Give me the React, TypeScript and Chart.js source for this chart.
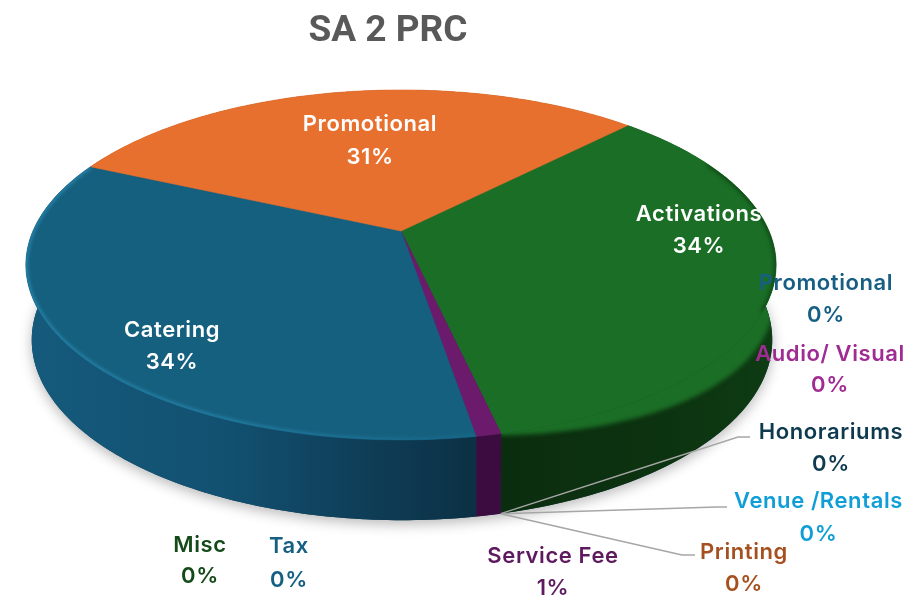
import React, { useEffect, useRef } from "react";
import { Chart, registerables } from "chart.js";

Chart.register(...registerables);

const chartTitle = "SA 2 PRC";
const categories = ["Activations", "Promotional", "Audio/ Visual", "Honorariums", "Venue /Rentals", "Printing", "Service Fee", "Tax", "Misc", "Catering", "Promotional"];
const shares = [34.1, 0, 0, 0, 0, 0, 0.9, 0, 0, 34.4, 30.6];
const startDegrees = 44.5;

const topColors = ["#1b6e26", "#156082", "#a02b93", "#0f3d52", "#0f9ed5", "#a5501e", "#6c1a6c", "#156082", "#134a18", "#16607f", "#e8702f"];
const labelColors = ["#ffffff", "#165e83", "#a02b93", "#0e3a50", "#109ed6", "#a5501e", "#5e1a5e", "#156082", "#134a18", "#ffffff", "#ffffff"];
// label centre x, first-line y, second-line y
const labelSpots = [
  [699, 214, 246], [826, 283, 315], [830, 354, 385], [831, 432, 464], [818.5, 501, 534],
  [744, 552, 584], [553, 556, 588], [289, 546, 580], [200, 545, 576], [172, 330, 362], [370, 124, 157],
];
const leaders: Record<number, number[]> = {
  3: [738, 437, 750, 437],
  4: [717, 507, 727, 507],
  5: [682, 555, 695, 555],
};

const P = { x0: 401, y0: 231, A: 368, B: 168.4, k: 0.194 };
type Pt = [number, number];
const topAt = (a: number): Pt => {
  const u = Math.cos(a), v = Math.sin(a), w = 1 - P.k * v;
  return [P.x0 + (P.A * u) / w, P.y0 + (P.B * v) / w];
};
const botAt = (a: number): Pt => {
  const [x, y] = topAt(a);
  return [401 + (x - 400) * 0.987, 340 + (y - 265) * 1.03];
};
const angles = (a0: number, a1: number) => {
  const n = Math.max(2, Math.ceil((a1 - a0) / 0.015));
  return Array.from({ length: n + 1 }, (_, i) => a0 + ((a1 - a0) * i) / n);
};
const poly = (ctx: CanvasRenderingContext2D, pts: Pt[]) => {
  ctx.beginPath();
  pts.forEach((p, i) => (i ? ctx.lineTo(p[0], p[1]) : ctx.moveTo(p[0], p[1])));
  ctx.closePath();
};
const openLine = (ctx: CanvasRenderingContext2D, pts: Pt[]) => {
  ctx.beginPath();
  pts.forEach((p, i) => (i ? ctx.lineTo(p[0], p[1]) : ctx.moveTo(p[0], p[1])));
};
const gradX = (ctx: CanvasRenderingContext2D, x0: number, x1: number, stops: [number, string][]) => {
  const g = ctx.createLinearGradient(x0, 0, x1, 0);
  stops.forEach(([o, c]) => g.addColorStop(o, c));
  return g;
};

const pie3d = {
  id: "pie3d",
  beforeDatasetsDraw(chart: any) {
    const ctx: CanvasRenderingContext2D = chart.ctx;
    const arcs = chart.getDatasetMeta(0).data as any[];
    const full = angles(0, Math.PI * 2);
    ctx.save();
    // soft shadow under the body
    ctx.save();
    ctx.shadowColor = "rgba(0,0,0,0.28)";
    ctx.shadowBlur = 13;
    ctx.shadowOffsetY = 4;
    ctx.fillStyle = "#0f3d52";
    poly(ctx, full.map(botAt));
    ctx.fill();
    ctx.restore();

    const sideFill = (i: number) => {
      if (i === 9) return gradX(ctx, 25, 478, [[0, "#155a7c"], [0.45, "#125070"], [0.78, "#0e3c55"], [1, "#0c3044"]]);
      if (i === 0) return gradX(ctx, 502, 775, [[0, "#0b2d0f"], [0.6, "#0c3310"], [1, "#0e3c13"]]);
      if (i === 6) return "#3c0c40";
      return "#7a3a14";
    };
    // side walls
    arcs.forEach((arc, i) => {
      if (arc.endAngle - arc.startAngle < 1e-4) return;
      const as = angles(arc.startAngle, arc.endAngle);
      ctx.fillStyle = sideFill(i);
      poly(ctx, [...as.map(topAt), ...as.slice().reverse().map(botAt)]);
      ctx.fill();
    });
    // soft upper band of the green wall
    const green = arcs[0];
    const greenAngles = angles(green.startAngle, green.endAngle);
    const extra = (x: number) => Math.max(0, Math.min(1, (x - 502) / 273)) * 30;
    ctx.save();
    poly(ctx, [...greenAngles.map(topAt), ...greenAngles.slice().reverse().map(botAt)]);
    ctx.clip();
    ctx.filter = "blur(2px)";
    ctx.fillStyle = topColors[0];
    const band = greenAngles.map((a): Pt => {
      const t = topAt(a), b = botAt(a);
      const f = (extra(t[0]) + 2) / Math.max(1, b[1] - t[1]);
      return [t[0] + (b[0] - t[0]) * f, t[1] + (b[1] - t[1]) * f];
    });
    poly(ctx, [...greenAngles.map((a): Pt => { const t = topAt(a); return [t[0] - 6, t[1] - 8]; }), ...band.reverse()]);
    ctx.fill();
    ctx.restore();

    // top faces
    arcs.forEach((arc, i) => {
      if (arc.endAngle - arc.startAngle < 1e-4) return;
      const as = angles(arc.startAngle, arc.endAngle);
      poly(ctx, [[P.x0, P.y0], ...as.map(topAt)]);
      ctx.fillStyle = topColors[i];
      ctx.fill();
      ctx.strokeStyle = topColors[i];
      ctx.lineWidth = 0.6;
      ctx.stroke();
    });
    // lit rim of the catering slice
    const cat = arcs[9];
    const catAngles = angles(cat.startAngle, cat.endAngle);
    ctx.save();
    poly(ctx, [[P.x0, P.y0], ...catAngles.map(topAt)]);
    ctx.clip();
    ctx.filter = "blur(1.5px)";
    ctx.lineWidth = 5;
    ctx.strokeStyle = gradX(ctx, 25, 478, [[0, "rgba(36,128,166,0.9)"], [0.45, "rgba(36,128,166,0.8)"], [1, "rgba(24,110,145,0.45)"]]);
    openLine(ctx, catAngles.map(topAt));
    ctx.stroke();
    ctx.restore();
    // dark soft edge on the far right of the green slice
    ctx.save();
    poly(ctx, [[P.x0, P.y0], ...greenAngles.map(topAt)]);
    ctx.clip();
    ctx.filter = "blur(2px)";
    ctx.lineWidth = 3;
    ctx.strokeStyle = "rgba(5,40,10,0.75)";
    openLine(ctx, angles(green.startAngle + 0.35, green.startAngle + 1.25).map(topAt));
    ctx.stroke();
    ctx.restore();
    ctx.restore();
    return false;
  },
  afterDraw(chart: any) {
    const ctx: CanvasRenderingContext2D = chart.ctx;
    const arcs = chart.getDatasetMeta(0).data as any[];
    const total = shares.reduce((s, v) => s + v, 0);
    ctx.save();
    ctx.lineWidth = 1.5;
    ctx.strokeStyle = "#a6a6a6";
    Object.keys(leaders).forEach((key) => {
      const i = Number(key);
      const [a, b] = botAt(arcs[i].startAngle);
      const l = leaders[i];
      ctx.beginPath();
      ctx.moveTo(a, b);
      ctx.lineTo(l[0], l[1]);
      ctx.lineTo(l[2], l[3]);
      ctx.stroke();
    });
    ctx.textAlign = "center";
    ctx.textBaseline = "middle";
    ctx.font = "600 22px Inter";
    (ctx as any).letterSpacing = "0.6px";
    categories.forEach((name, i) => {
      const [x, y1, y2] = labelSpots[i];
      ctx.fillStyle = labelColors[i];
      ctx.fillText(name, x, y1);
      ctx.fillText(Math.round((shares[i] / total) * 100) + "%", x, y2);
    });
    ctx.restore();
  },
};

export default function App() {
  const ref = useRef<HTMLCanvasElement>(null);
  useEffect(() => {
    const chart = new Chart(ref.current!, {
      type: "pie",
      data: { labels: categories, datasets: [{ data: shares, backgroundColor: topColors, borderWidth: 0 }] },
      options: {
        animation: false,
        responsive: false,
        rotation: startDegrees,
        layout: { padding: { right: 144, top: 10 } },
        plugins: {
          legend: { display: false },
          tooltip: { enabled: false },
          title: {
            display: true,
            text: chartTitle,
            color: "#595959",
            font: { family: "Roboto", weight: "bold", size: 37 },
            padding: { top: 0, bottom: 10 },
          },
        },
      },
      plugins: [pie3d as any],
    });
    return () => chart.destroy();
  }, []);
  return (
    <div style={{ position: "absolute", left: 0, top: 0, width: 920, height: 597, background: "#fff" }}>
      <canvas ref={ref} width={920} height={597} style={{ display: "block" }} />
    </div>
  );
}
